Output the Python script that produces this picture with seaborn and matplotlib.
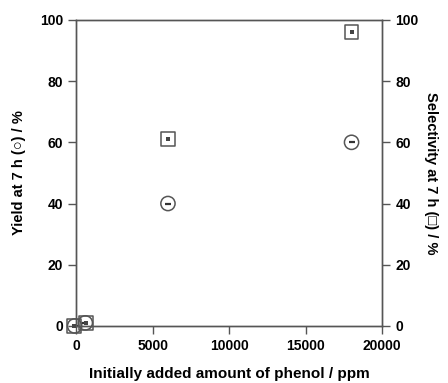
import matplotlib
matplotlib.use("Agg")
import matplotlib.pyplot as plt
import seaborn as sns
import pandas as pd

sns.set_style("ticks")
plt.rcParams['font.family'] = ['Liberation Sans', 'DejaVu Sans']
plt.rcParams['text.color'] = 'black'
plt.rcParams['axes.labelcolor'] = 'black'
plt.rcParams['xtick.labelcolor'] = 'black'
plt.rcParams['ytick.labelcolor'] = 'black'

# data
phenol_yield = [-100, 600, 6000, 18000]
yield_pct = [0, 1, 40, 60]
phenol_sel = [-150, 650, 6000, 18000]
selectivity_pct = [0, 1, 61, 96]
xticks = [0, 5000, 10000, 15000, 20000]
yticks = [0, 20, 40, 60, 80, 100]

df_y = pd.DataFrame({"phenol": phenol_yield, "value": yield_pct})
df_s = pd.DataFrame({"phenol": phenol_sel, "value": selectivity_pct})

fig = plt.figure(figsize=(4.48, 3.83), dpi=100)
ax = fig.add_axes([0.170, 0.149, 0.683, 0.799])
ax2 = ax.twinx()

edge = "#555555"
sns.scatterplot(data=df_y, x="phenol", y="value", ax=ax, marker="o", s=105,
                facecolor="none", edgecolor=edge, linewidth=1.1, clip_on=False, zorder=3)
sns.scatterplot(data=df_y, x="phenol", y="value", ax=ax, marker="_", s=14,
                color="#333333", linewidth=1.6, clip_on=False, zorder=4)
sns.scatterplot(data=df_s, x="phenol", y="value", ax=ax2, marker="s", s=100,
                facecolor="none", edgecolor=edge, linewidth=1.1, clip_on=False, zorder=3)
sns.scatterplot(data=df_s, x="phenol", y="value", ax=ax2, marker="s", s=5,
                color="#444444", linewidth=0, clip_on=False, zorder=4)

for a in (ax, ax2):
    a.set_xlim(0, 20000)
    a.set_ylim(0, 100)
    a.set_yticks(yticks)
    for sp in a.spines.values():
        sp.set_visible(True)
        sp.set_color(edge)
        sp.set_linewidth(1.0)
    a.tick_params(length=6, width=1.0, color=edge, labelsize=10, labelcolor="black")

ax.set_xticks(xticks)
ax.set_xticklabels([str(t) for t in xticks], fontweight="bold")
ax.set_yticklabels([str(t) for t in yticks], fontweight="bold")
ax2.set_yticklabels([str(t) for t in yticks], fontweight="bold")

ax.set_xlabel("Initially added amount of phenol / ppm", fontsize=11, fontweight="bold",
              labelpad=10, color="black")
ax.set_ylabel("Yield at 7 h (○) / %", fontsize=10.5, fontweight="bold", labelpad=10, color="black")
ax2.set_ylabel("Selectivity at 7 h (□) / %", fontsize=10.5, fontweight="bold", rotation=270,
               labelpad=14, color="black")

fig.savefig("out.png", dpi=100)
